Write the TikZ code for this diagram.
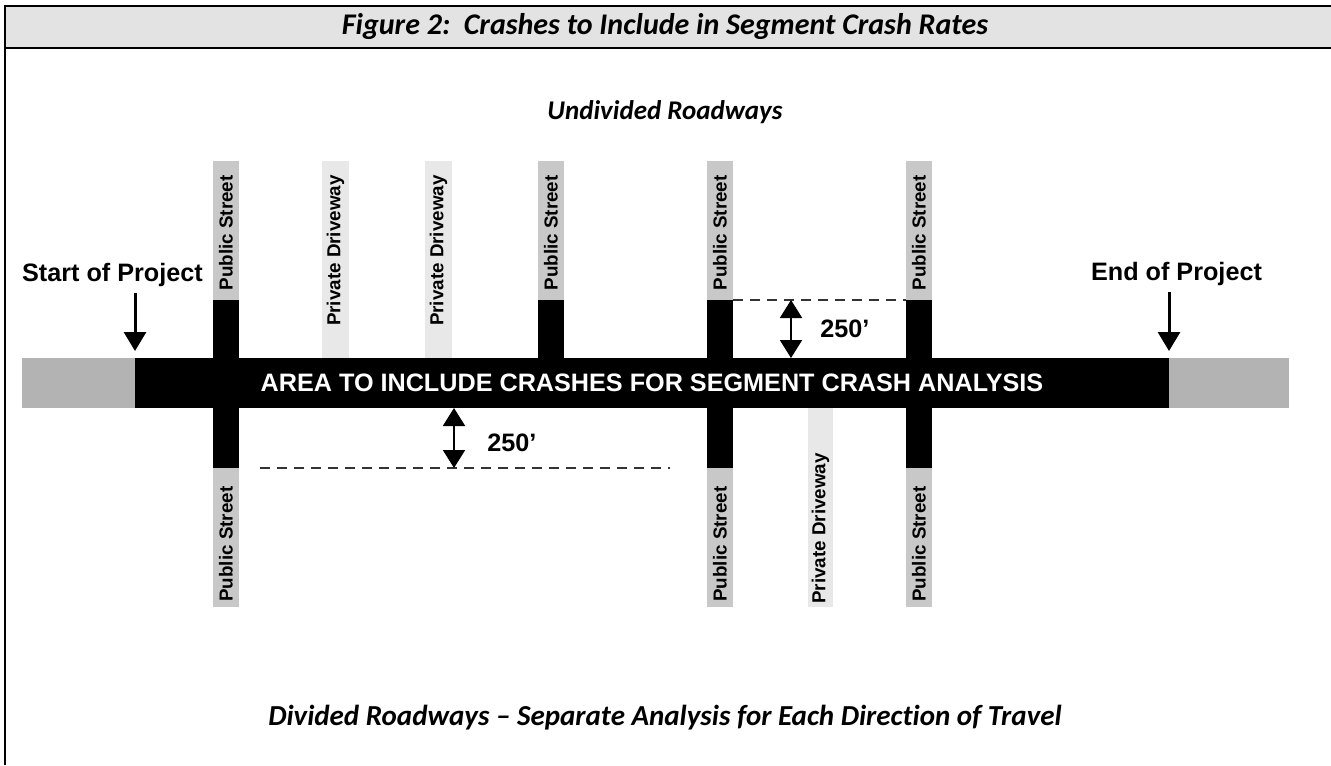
\documentclass[tikz,border=0pt]{standalone}
\usepackage{fontspec}
\setmainfont{Liberation Sans}
\newfontfamily\calib[Ligatures=NoCommon]{Carlito}
\usetikzlibrary{arrows.meta}
\definecolor{hdr}{HTML}{E3E3E3}
\definecolor{pubg}{HTML}{C8C8C8}
\definecolor{privg}{HTML}{E8E8E8}
\definecolor{endg}{HTML}{B3B3B3}
\definecolor{dashc}{HTML}{333333}
\tikzset{
  frameline/.style={line width=1pt, black},
  titletext/.style={font=\calib\bfseries\itshape\fontsize{15pt}{17pt}\selectfont, inner sep=0pt},
  subtitletext/.style={font=\calib\bfseries\itshape\fontsize{14.5pt}{17pt}\selectfont, inner sep=0pt},
  biglabel/.style={font=\bfseries\fontsize{12.6pt}{14pt}\selectfont, inner sep=0pt},
  streetlabel/.style={font=\bfseries\fontsize{9.4pt}{11pt}\selectfont, inner sep=0pt, rotate=90},
  arealabel/.style={font=\bfseries\fontsize{12.6pt}{14pt}\selectfont, text=white, inner sep=0pt},
  downarrow/.style={line width=1.5pt, -{Triangle[width=11pt,length=9.5pt]}},
  dimarrow/.style={line width=1pt, {Triangle[width=11pt,length=9pt]}-{Triangle[width=11pt,length=9pt]}},
  limitline/.style={dashc, line width=0.7pt, dash pattern=on 5pt off 3.5pt},
}
\begin{document}
\begin{tikzpicture}[x=0.5pt,y=-0.5pt]
\useasboundingbox (0,0) rectangle (1331,765);
\fill[white] (0,0) rectangle (1331,765);
% header
\fill[hdr] (5,6.5) rectangle (1331,48.5);
\draw[frameline] (1331,6.5) -- (5,6.5) -- (5,765);
\draw[frameline] (5,48.5) -- (1331,48.5);
\node[titletext] (title) at (665,27) {Figure 2:\ \ Crashes to Include in Segment Crash Rates};
\node[subtitletext, font=\calib\bfseries\itshape\fontsize{13.5pt}{16pt}\selectfont] (undiv) at (665,112) {Undivided Roadways};
\node[subtitletext] (div) at (665,718) {Divided Roadways – Separate Analysis for Each Direction of Travel};

% upper streets
\foreach \cx in {226,551,720,919}{
  \fill[pubg] (\cx-13,161) rectangle (\cx+13,300);
  \fill[black] (\cx-13,300) rectangle (\cx+13,360);
}
\foreach \cx in {335.5,438.5}{
  \fill[privg] (\cx-13.5,161) rectangle (\cx+13.5,360);
}
% lower streets
\foreach \cx in {226,720,919}{
  \fill[black] (\cx-13,405) rectangle (\cx+13,468);
  \fill[pubg] (\cx-13,468) rectangle (\cx+13,607);
}
\fill[privg] (808,405) rectangle (833,607);

% main road
\fill[endg] (22,358) rectangle (135,408);
\fill[black] (135,358) rectangle (1169,408);
\fill[endg] (1169,358) rectangle (1289,408);
\node[arealabel] (area) at (652,383) {AREA TO INCLUDE CRASHES FOR SEGMENT CRASH ANALYSIS};

% street labels
\node[streetlabel, anchor=east] (u1) at (226,175) {Public Street};
\node[streetlabel, anchor=east] (u2) at (335.5,175) {Private Driveway};
\node[streetlabel, anchor=east] (u3) at (438.5,175) {Private Driveway};
\node[streetlabel, anchor=east] (u4) at (551,175) {Public Street};
\node[streetlabel, anchor=east] (u5) at (720,175) {Public Street};
\node[streetlabel, anchor=east] (u6) at (919,175) {Public Street};
\node[streetlabel, anchor=west] (l1) at (226,602) {Public Street};
\node[streetlabel, anchor=west] (l2) at (720,602) {Public Street};
\node[streetlabel, anchor=west] (l3) at (820.5,604) {Private Driveway};
\node[streetlabel, anchor=west] (l4) at (919,602) {Public Street};

% project limits
\node[biglabel, anchor=base] (start) at (112.5,281) {Start of Project};
\node[biglabel, anchor=base] (finish) at (1176.5,280) {End of Project};
\coordinate (sa) at (135,351);
\coordinate (ea) at (1169,351);
\draw[downarrow] (start.south -| sa) ++(0,6) -- (sa);
\draw[downarrow] (finish.south -| ea) ++(0,6) -- (ea);

% 250 ft limits
\coordinate (ud1) at (733,300);
\coordinate (ud2) at (906,300);
\draw[limitline] (ud1) -- (ud2);
\coordinate (ua) at (791,300);
\coordinate (ub) at (791,358);
\draw[dimarrow] (ua) -- (ub);
\node[biglabel, anchor=base west] (udim) at (820,337) {250’};

\coordinate (ld1) at (260,468);
\coordinate (ld2) at (670,468);
\draw[limitline] (ld1) -- (ld2);
\coordinate (la) at (454,408);
\coordinate (lb) at (454,468);
\draw[dimarrow] (la) -- (lb);
\node[biglabel, anchor=base west] (ldim) at (487,451) {250’};
\end{tikzpicture}
\end{document}
